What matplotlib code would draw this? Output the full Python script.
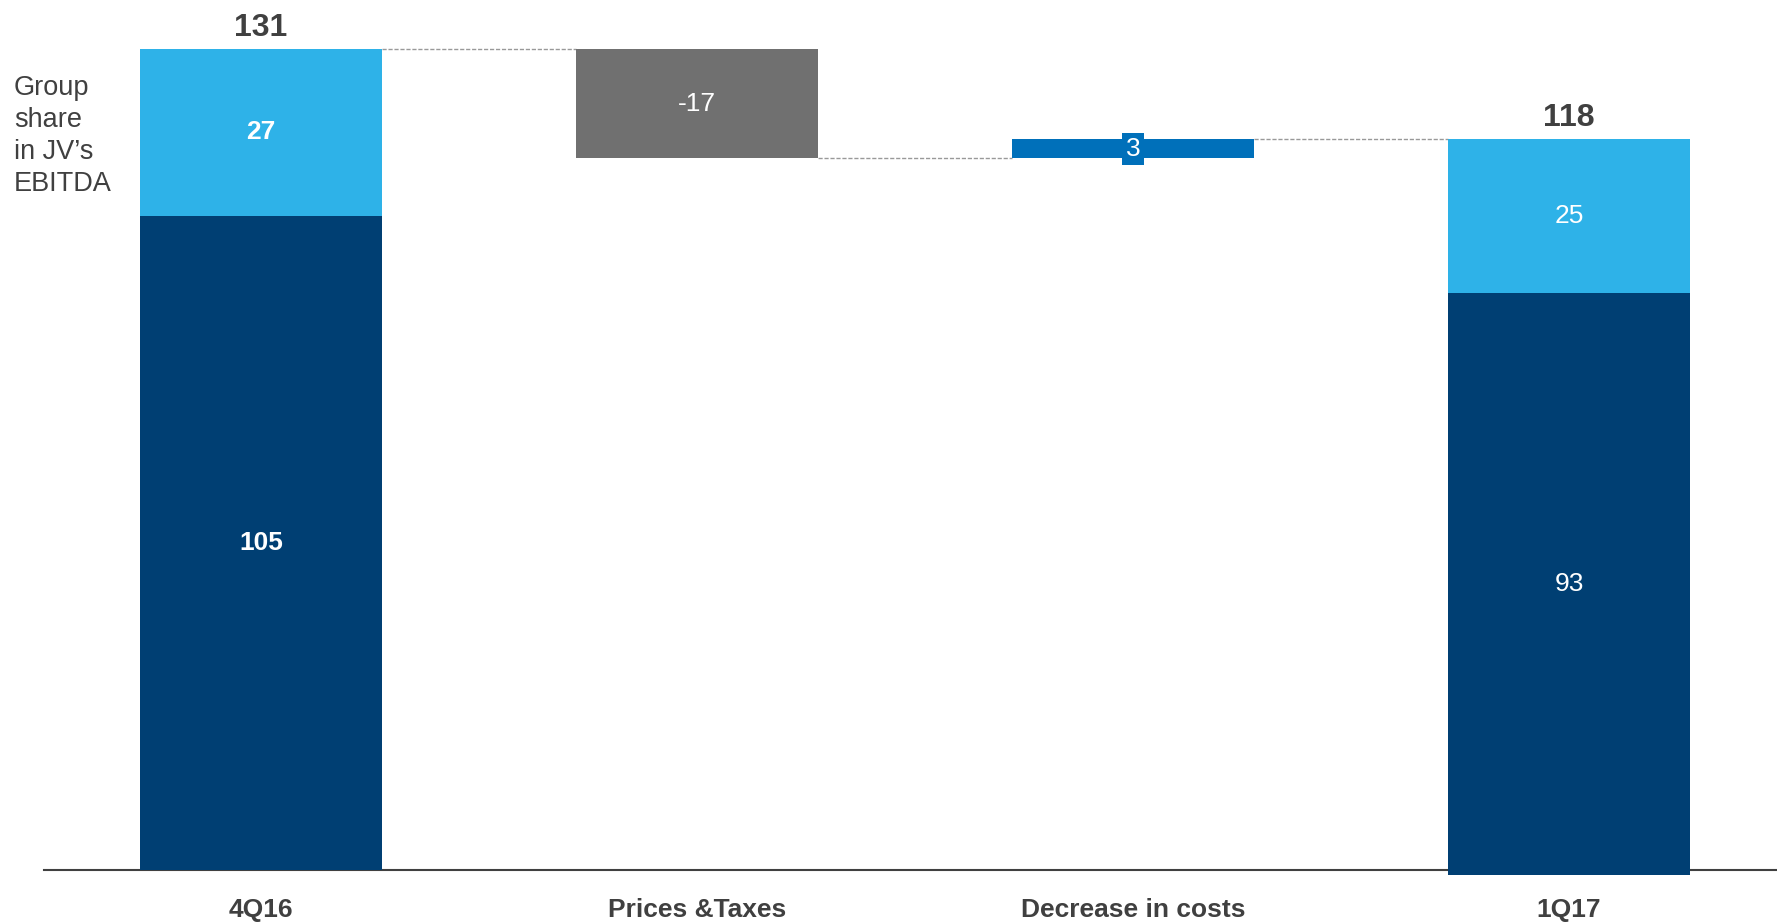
import matplotlib
matplotlib.use('Agg')
import matplotlib.pyplot as plt

plt.rcParams['font.family'] = ['Liberation Sans', 'DejaVu Sans']

categories = ['4Q16', 'Prices &Taxes', 'Decrease in costs', '1Q17']
# segment heights as drawn, labels as printed (rounded in the source)
start_parts = [104.4, 26.6]
start_labels = ['105', '27']
start_total = '131'
changes = [-17.4, 3.0]
change_labels = ['-17', '3']
end_base = -0.8
end_parts = [92.9, 24.5]
end_labels = ['93', '25']
end_total = '118'

navy = '#003F73'
sky = '#2EB2E8'
grey = '#707070'
blue = '#0070BA'
txt = '#404040'
dash = '#999999'

k = 6.267  # px per unit
ymin, ymax = -1.5, 870 / k
fig = plt.figure(figsize=(17.77, 9.22), dpi=100)
ax_h = 870 - ymin * k
ax = fig.add_axes([44/1777, (922 - ax_h) / 922, 1 - 44/1777, ax_h / 922])
ax.spines['bottom'].set_position(('data', 0))
w = 0.555

# start column
b = 0
for v, lab, col in zip(start_parts, start_labels, [navy, sky]):
    ax.bar(0, v, bottom=b, width=w, color=col, zorder=3)
    ax.text(0, b + v/2, lab, color='white', fontsize=19, fontweight='bold', ha='center', va='center', zorder=4)
    b += v
ax.annotate(start_total, (0, b), xytext=(0, 9.5), textcoords='offset points',
            ha='center', va='baseline', fontsize=23, fontweight='bold', color=txt)

# floating changes
level = b
for i, (c, lab) in enumerate(zip(changes, change_labels)):
    x = i + 1
    ax.plot([x - 1 + w/2, x - w/2], [level, level], ls=(0, (3, 1.3)), color=dash, lw=1)
    lo = min(level, level + c)
    if c < 0:
        ax.bar(x, abs(c), bottom=lo, width=w, color=grey, zorder=3)
        ax.text(x, lo + abs(c)/2, lab, color='white', fontsize=19, ha='center', va='center', zorder=4)
    else:
        ax.bar(x, abs(c), bottom=lo, width=w, color=blue, zorder=3)
        ax.text(x, lo + abs(c)/2, lab, color='white', fontsize=19, ha='center', va='center', zorder=4,
                bbox=dict(boxstyle='square,pad=0.15', fc=blue, ec='none'))
    level = level + c
xe = len(categories) - 1
ax.plot([xe - 1 + w/2, xe - w/2], [level, level], ls=(0, (3, 1.3)), color=dash, lw=1)

# end column
b = end_base
for v, lab, col in zip(end_parts, end_labels, [navy, sky]):
    ax.bar(xe, v, bottom=b, width=w, color=col, zorder=3)
    ax.text(xe, b + v/2, lab, color='white', fontsize=19, ha='center', va='center', zorder=4)
    b += v
ax.annotate(end_total, (xe, b), xytext=(0, 9.5), textcoords='offset points',
            ha='center', va='baseline', fontsize=23, fontweight='bold', color=txt)

ax.set_xlim(-0.498, 3.477)
ax.set_ylim(ymin, ymax)
ax.set_xticks(range(len(categories)))
ax.set_xticklabels(categories, fontsize=19, fontweight='bold', color=txt)
ax.tick_params(axis='x', length=0, pad=20)
ax.set_yticks([])
for s in ['top', 'right', 'left']:
    ax.spines[s].set_visible(False)
ax.spines['bottom'].set_color(txt)
ax.spines['bottom'].set_linewidth(1.5)

fig.text(14/1777, 1 - 75/922, 'Group\nshare\nin JV\u2019s\nEBITDA', fontsize=19.5, color=txt,
         ha='left', va='top', linespacing=1.3)

fig.savefig('out.png', dpi=100)
